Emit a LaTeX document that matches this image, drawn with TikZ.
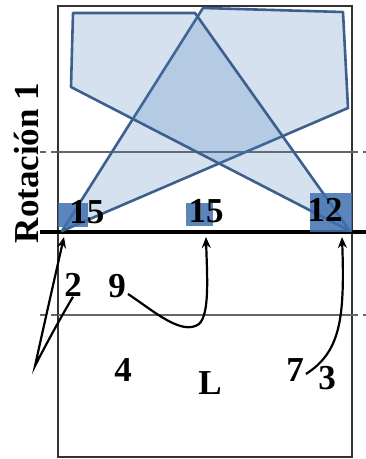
\documentclass[tikz,border=0pt]{standalone}
\usepackage{fontspec}
\setmainfont{Liberation Serif}
\usepackage{xcolor}
\usepackage{tikz}
\usetikzlibrary{arrows.meta}
\definecolor{zoneblue}{HTML}{4F81BD}
\definecolor{edgeblue}{HTML}{3D5F8E}
\definecolor{boxblue}{HTML}{3F70B0}

\begin{document}
\begin{tikzpicture}[
  x=1pt, y=-1pt,
  every node/.style={font=\fontsize{35}{40}\selectfont\bfseries, inner sep=0pt},
  court/.style={draw=black!80, line width=2pt},
  guide/.style={draw=black!60, line width=1.6pt},
  zone/.style={draw=edgeblue, line width=2.6pt, fill=zoneblue, fill opacity=0.24, line join=round},
  setbox/.style={fill=boxblue, fill opacity=0.85},
  run/.style={draw=black, line width=2.2pt, -{Stealth[length=11pt,width=9pt]}}
]
\useasboundingbox (0,0) rectangle (366,459);
% court and lines
\draw[court] (58,6) rectangle (352,457);
\foreach \y in {152,315}{
  \draw[guide] (58,\y) -- (352,\y);
  \draw[guide, dash pattern=on 6pt off 5pt] (40,\y) -- (58,\y);
  \draw[guide, dash pattern=on 6pt off 5pt] (352,\y) -- (366,\y);
}
\draw[black, line width=3.4pt] (40,232) -- (366,232);
% reception zones
\draw[zone] (203,8) -- (343,12) -- (348,108) -- (62,231) -- cycle;
\draw[zone] (73,13) -- (195,13) -- (350,231) -- (71,87) -- cycle;
% setter boxes
\fill[setbox] (58,203) rectangle (88,227);
\fill[setbox] (186,203) rectangle (213,226);
\fill[setbox] (310,193) rectangle (352,232);
% players
\foreach \name/\x/\y/\txt in {
  s1/87/212/15, s2/206/211/15, s3/325/210/12,
  p2/73/285/2, p9/117/286/9, p4/123/370/4,
  pL/210/383/L, p7/295/370/7, p3/327/378/3}{
  \node (\name) at (\x,\y) {\txt};
}
\node[rotate=90] (rot) at (27,163) {Rotación 1};
% runs to the net
\coordinate (tA) at (64,237);
\coordinate (tB) at (206,237);
\coordinate (tC) at (342,237);
\coordinate (kA) at (35,366);
\draw[run] (p2.south) .. controls (58,322) and (42,352) .. (kA)
  .. controls (44,325) and (56,272) .. (tA);
\draw[run] ([xshift=2pt,yshift=4pt]p9.south east) .. controls (155,312) and (182,336) .. (199,324)
  .. controls (210,314) and (207,275) .. (tB);
\draw[run] ([xshift=2pt,yshift=-4pt]p7.east) .. controls (340,352) and (345,320) .. (tC);
\end{tikzpicture}
\end{document}
